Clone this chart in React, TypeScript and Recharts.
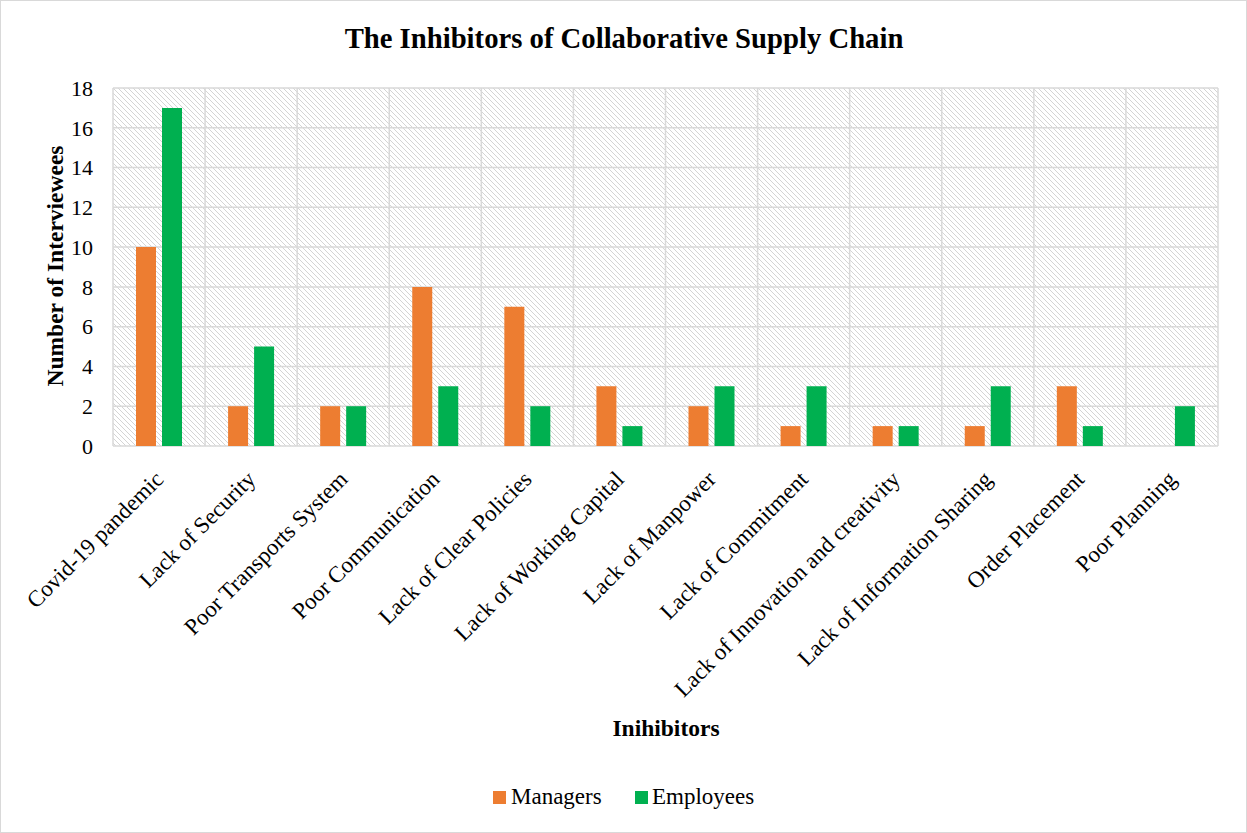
import React from 'react';
import { BarChart, Bar, XAxis, YAxis, CartesianGrid } from 'recharts';

const categories = [
  'Covid-19 pandemic',
  'Lack of Security',
  'Poor Transports System',
  'Poor Communication',
  'Lack of Clear Policies',
  'Lack of Working Capital',
  'Lack of Manpower',
  'Lack of Commitment',
  'Lack of Innovation and creativity',
  'Lack of Information Sharing',
  'Order Placement',
  'Poor Planning',
];
const managers = [10, 2, 2, 8, 7, 3, 2, 1, 1, 1, 3, 0];
const employees = [17, 5, 2, 3, 2, 1, 3, 3, 1, 3, 1, 2];
const yTicks = [0, 2, 4, 6, 8, 10, 12, 14, 16, 18];

const data = categories.map((name, i) => ({ name, Managers: managers[i], Employees: employees[i] }));

const FONT = "'Liberation Serif', 'Times New Roman', serif";
const ORANGE = '#ED7D31';
const GREEN = '#00B050';
const GRID = '#D9D9D9';

const CategoryTick = (props: any) => {
  const { x, y, payload } = props;
  return (
    <text
      transform={`translate(${x - 6.5},${y + 22.5}) rotate(-45)`}
      textAnchor="end"
      dy="0.75em"
      fontSize={23}
      fontFamily={FONT}
      fill="#000"
    >
      {payload.value}
    </text>
  );
};

export default function App() {
  return (
    <div style={{ position: 'absolute', left: 0, top: 0, width: 1247, height: 833, background: '#fff' }}>
      <BarChart
        width={1247}
        height={833}
        data={data}
        margin={{ top: 88, right: 29, left: 0, bottom: 0 }}
        barSize={20}
        barGap={6}
      >
        <defs>
          <pattern id="hatch" patternUnits="userSpaceOnUse" width="5" height="5">
            <rect width="5" height="5" fill="#fff" />
            <path d="M-1,-1 L6,6 M-1,4 L1,6 M4,-1 L6,1" stroke="#D4D4D4" strokeWidth="1" />
          </pattern>
        </defs>
        <CartesianGrid
          stroke={GRID}
          strokeWidth={1.5}
          fill="url(#hatch)"
          fillOpacity={1}
          verticalCoordinatesGenerator={({ offset }: any) =>
            categories.map((_, i) => offset.left + (i * offset.width) / categories.length).concat([offset.left + offset.width])
          }
        />
        <XAxis
          dataKey="name"
          interval={0}
          height={387}
          tickLine={false}
          axisLine={false}
          tickSize={0}
          tickMargin={0}
          tick={<CategoryTick />}
        />
        <YAxis
          width={113}
          domain={[0, 18]}
          ticks={yTicks}
          interval={0}
          tickLine={false}
          axisLine={false}
          tickSize={0}
          tickMargin={20}
          tick={{ fill: '#000', fontSize: 22, fontFamily: FONT }}
        />
        <Bar dataKey="Managers" fill={ORANGE} isAnimationActive={false} />
        <Bar dataKey="Employees" fill={GREEN} isAnimationActive={false} />
      </BarChart>
      <svg
        width={1247}
        height={833}
        style={{ position: 'absolute', left: 0, top: 0, pointerEvents: 'none' }}
        fontFamily={FONT}
      >
        <rect x={0.5} y={0.5} width={1246} height={832} fill="none" stroke={GRID} strokeWidth={1} />
        <text x={624} y={48} textAnchor="middle" fontSize={28.7} fontWeight="bold" fill="#000">
          The Inhibitors of Collaborative Supply Chain
        </text>
        <text x={666} y={736} textAnchor="middle" fontSize={23.5} fontWeight="bold" fill="#000">
          Inihibitors
        </text>
        <text
          transform="translate(63,266) rotate(-90)"
          textAnchor="middle"
          fontSize={23.5}
          fontWeight="bold"
          fill="#000"
        >
          Number of Interviewees
        </text>
        <rect x={493} y={791} width={13} height={13} fill={ORANGE} />
        <text x={511} y={804} fontSize={23} fill="#000">Managers</text>
        <rect x={635} y={791} width={13} height={13} fill={GREEN} />
        <text x={652} y={804} fontSize={23} fill="#000">Employees</text>
      </svg>
    </div>
  );
}
